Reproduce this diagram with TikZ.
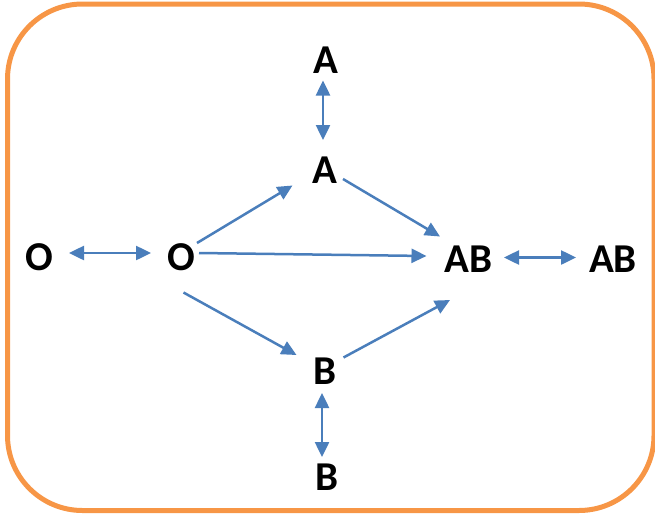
\documentclass[tikz,border=0pt]{standalone}
\usepackage{fontspec}
\setmainfont{Carlito}
\usepackage{xcolor}
\usetikzlibrary{arrows.meta,calc}

\definecolor{frameorange}{HTML}{F79646}
\definecolor{linkblue}{HTML}{4A7EBB}

\begin{document}
\begin{tikzpicture}[x=1pt, y=-1pt,
    allele/.style={inner sep=0pt, font=\fontsize{41}{41}\selectfont\bfseries},
    link/.style={draw=linkblue, line width=2.5pt, -{Triangle[length=15pt,width=14pt]}},
    swap/.style={link, {Triangle[length=15pt,width=14pt]}-{Triangle[length=15pt,width=14pt]}}]
    \useasboundingbox (0,0) rectangle (655,514);

    % --- Frame ---
    \draw[frameorange, line width=5pt, rounded corners=75pt] (7.5,4) rectangle (654,510.5);

    % --- Blood groups ---
    \node[allele] (ol)  at (39.5,257)  {O};
    \node[allele] (om)  at (181.5,257) {O};
    \node[allele] (at)  at (325.5,60.5) {A};
    \node[allele] (am)  at (325,170.5) {A};
    \node[allele] (bm)  at (324.5,371.5) {B};
    \node[allele] (bb)  at (327,477.5) {B};
    \node[allele] (ab)  at (468.5,259.5) {AB};
    \node[allele] (abr) at (613,259.5) {AB};

    % --- Two-way links ---
    \draw[swap] ($(ol)+(29.5,-4)$) -- ($(om)+(-30.5,-4)$);
    \draw[swap] ($(at)+(-2.5,20)$) -- ($(am)+(-2,-30.5)$);
    \draw[swap] ($(bm)+(-2.5,21.5)$) -- ($(bb)+(-5,-20.5)$);
    \draw[swap] ($(ab)+(35.5,-2)$) -- ($(abr)+(-37,-2)$);

    % --- One-way links ---
    \draw[link] ($(om)+(15.5,-14)$) -- ($(am)+(-32.5,15)$);
    \draw[link] ($(om)+(17.5,-4)$) -- ($(ab)+(-42,-3.5)$);
    \draw[link] ($(om)+(2,35.5)$) -- ($(bm)+(-28,-16.5)$);
    \draw[link] ($(am)+(18,8.5)$) -- ($(ab)+(-28.5,-23)$);
    \draw[link] ($(bm)+(19,-14)$) -- ($(ab)+(-18.5,40.5)$);

\end{tikzpicture}
\end{document}
